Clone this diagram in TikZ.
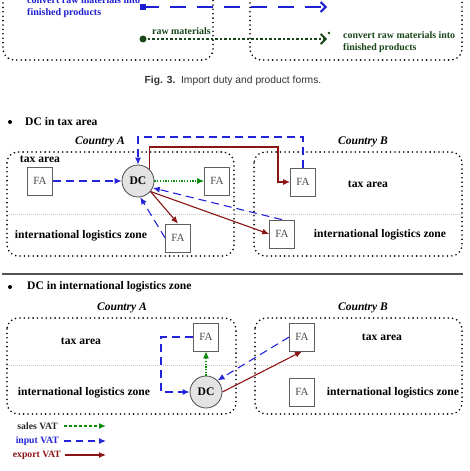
\documentclass[tikz,border=0pt]{standalone}
\usepackage{fontspec}
\setmainfont{Liberation Serif}
\newfontfamily\capfont{Liberation Sans}
\usetikzlibrary{arrows.meta,calc}
\definecolor{myblue}{RGB}{35,35,215}
\definecolor{myred}{RGB}{140,20,20}
\definecolor{mygreen}{RGB}{10,140,10}
\definecolor{topgreen}{RGB}{25,70,25}
\definecolor{topblue}{RGB}{30,30,210}
\newcommand\myfs[1]{\fontsize{#1}{#1}\selectfont}
\begin{document}
\begin{tikzpicture}[x=1pt,y=-1pt,
  region/.style={draw=black, line width=1.8pt, dash pattern=on 0pt off 4.4pt, line cap=round, rounded corners=11pt},
  divider/.style={draw=gray!45, line width=0.5pt, dash pattern=on 1pt off 1pt},
  fa/.style={draw=gray!75!black, line width=0.7pt, minimum width=25pt, minimum height=28pt, inner sep=0pt, text=gray!60!black, font=\myfs{11}},
  dc/.style={circle, draw=black!70, fill=gray!22, line width=0.8pt, minimum size=32pt, inner sep=0pt, font=\bfseries\myfs{11.6}},
  lbl/.style={inner sep=0pt, font=\bfseries\myfs{11.6}},
  bul/.style={circle, fill=black, minimum size=4pt, inner sep=0pt},
  ctry/.style={inner sep=0pt, font=\bfseries\itshape\myfs{11.6}},
  inp/.style={draw=myblue, line width=1.1pt, dash pattern=on 8pt off 5pt, -{Latex[length=7pt,width=6pt]}},
  sale/.style={draw=mygreen, line width=1.1pt, dash pattern=on 1.3pt off 1.4pt, -{Latex[length=7pt,width=6pt]}},
  exp/.style={draw=myred, line width=1.1pt, -{Latex[length=7pt,width=6pt]}},
  topblue text/.style={inner sep=0pt, text=topblue, font=\bfseries\myfs{10}},
  topgreen text/.style={inner sep=0pt, text=topgreen, font=\bfseries\myfs{9.9}},
  legend text/.style={inner sep=0pt, anchor=east, font=\bfseries\myfs{9.7}},
]
\useasboundingbox (0,0) rectangle (470,471);
\clip (0,0) rectangle (470,471);
\fill[white] (0,0) rectangle (470,471);

% ---------- top (remnant of Fig. 3) ----------
\draw[region] (3,-30) rectangle (213,60);
\draw[region] (250,-30) rectangle (462,60);
\node[topblue text, anchor=base west] (bt1) at (27,3) {convert raw materials into};
\node[topblue text, anchor=base west] (bt2) at (27,15) {finished products};
\node[fill=topblue, minimum size=6pt, inner sep=0pt] (bsq) at (143,7) {};
\coordinate (bend) at (327,7);
\draw[topblue, line width=2pt, dash pattern=on 16pt off 11pt, -{Straight Barb[length=5pt,width=10pt,line width=2pt]}] (bsq.center) -- (bend);
\node[circle, fill=topgreen, minimum size=7pt, inner sep=0pt] (gdot) at (143,39) {};
\coordinate (gend) at (327,39);
\draw[topgreen, line width=1.8pt, dash pattern=on 2.5pt off 2pt, -{Straight Barb[length=5pt,width=10pt,line width=1.8pt]}] (gdot.center) -- (gend);
\fill[topgreen] (329,33) circle (1.4pt);
\node[topgreen text, anchor=base west] (rm) at (152,34) {raw materials};
\node[topgreen text, anchor=base west] (gt1) at (343,38) {convert raw materials into};
\node[topgreen text, anchor=base west] (gt2) at (343,50) {finished products};
\node[inner sep=0pt, text=black!80, font=\capfont\myfs{10.3}] (cap) at (233,81) {\textbf{Fig. 3.}\ \ Import duty and product forms.};

% ---------- DC in tax area ----------
\node[bul] (b1) at (10,122) {};
\node[lbl, anchor=west] (h1) at (25,122) {DC in tax area};
\node[ctry] (ca1) at (100,142) {Country A};
\node[ctry] (cb1) at (363,142) {Country B};
\draw[region] (7,152) rectangle (234,256);
\draw[region] (254,152) rectangle (462,256);
\draw[divider] (7,214) -- (462,214);
\node[lbl] (ta1) at (40,159) {tax area};
\node[lbl] (tb1) at (368,184) {tax area};
\node[lbl] (ila1) at (81,236) {international logistics zone};
\node[lbl] (ilb1) at (380,235) {international logistics zone};
\node[fa] (FA1) at (40,181) {FA};
\node[dc] (DC1) at (138,181) {DC};
\node[fa] (FA2) at (217,181) {FA};
\node[fa] (FA3) at (178,238) {FA};
\node[fa] (FB1) at (303,182) {FA};
\node[fa] (FB2) at (282,234) {FA};
\coordinate (t1) at (138,137);
\coordinate (r2) at (278,147);
\draw[inp] (FA1) -- (DC1);
\draw[sale] (DC1) -- (FA2);
\draw[inp] (FB1.north) |- (t1) -- (DC1.north);
\draw[exp] (DC1.47) |- (r2) |- (FB1.west);
\draw[inp] (FB2.north) -- (DC1.-25);
\draw[exp] (DC1.-40) -- (FB2.west);
\draw[exp] (DC1.-40) -- (FA3.north);
\draw[inp] (FA3.west) -- (DC1.-82);

% separator
\coordinate (sepL) at (2,274);
\coordinate (sepR) at (463,274);
\draw[gray!65!black, line width=2pt] (sepL) -- (sepR);

% ---------- DC in international logistics zone ----------
\node[bul] (b2) at (10,287) {};
\node[lbl, anchor=west] (h2) at (27,287) {DC in international logistics zone};
\node[ctry] (ca2) at (122,308) {Country A};
\node[ctry] (cb2) at (363,308) {Country B};
\draw[region] (7,318) rectangle (236,414);
\draw[region] (255,318) rectangle (462,414);
\draw[divider] (7,365) -- (462,365);
\node[lbl] (ta2) at (81,341) {tax area};
\node[lbl] (tb2) at (382,337) {tax area};
\node[lbl] (ila2) at (84,393) {international logistics zone};
\node[lbl] (ilb2) at (393,393) {international logistics zone};
\node[fa] (FA4) at (206,337) {FA};
\node[dc] (DC2) at (206,392) {DC};
\node[fa] (FB3) at (302,337) {FA};
\node[fa] (FB4) at (302,392) {FA};
\coordinate (b1c) at (161,392);
\draw[inp] (FA4.west) -| (b1c) -- (DC2.west);
\draw[sale] (DC2.north) -- (FA4.south);
\draw[inp] (FB3.west) -- (DC2.45);
\draw[exp] (DC2.east) -- (FB3.south);

% ---------- legend ----------
\node[legend text, text=black!85] (ls) at (58,426) {sales VAT};
\node[legend text, text=myblue] (li) at (59,441) {input VAT};
\node[legend text, text=myred] (le) at (61,455) {export VAT};
\coordinate (ls1) at (64,426); \coordinate (ls2) at (106,426);
\coordinate (li1) at (64,441); \coordinate (li2) at (106,441);
\coordinate (le1) at (65,455); \coordinate (le2) at (106,455);
\draw[sale, line width=1.4pt, dash pattern=on 3pt off 2pt] (ls1) -- (ls2);
\draw[inp, dash pattern=on 7pt off 5pt] (li1) -- (li2);
\draw[exp] (le1) -- (le2);
\end{tikzpicture}
\end{document}
